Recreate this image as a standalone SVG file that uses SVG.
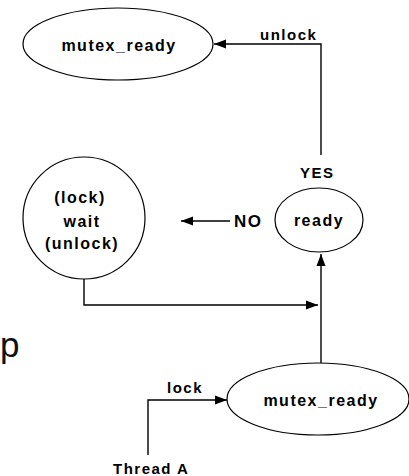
<svg xmlns="http://www.w3.org/2000/svg" width="409" height="476" viewBox="0 0 409 476">
<style>
.node{fill:#fff;stroke:#000;stroke-width:1.2}
.t{font-family:"Liberation Sans",Arial,sans-serif;font-weight:bold;font-size:16px;letter-spacing:1.5px;fill:#000}
.lbl{font-family:"Liberation Sans",Arial,sans-serif;font-weight:bold;font-size:15px;letter-spacing:1.5px;fill:#000}
.c{fill:none;stroke:#000;stroke-width:1.4}
</style>
<defs>
<marker id="ah" markerUnits="userSpaceOnUse" markerWidth="12" markerHeight="10" refX="12" refY="5" orient="auto">
<path d="M0,0.5 L12,5 L0,9.5 Z" fill="#000"/>
</marker>
</defs>
<rect width="409" height="476" fill="#fff"/>
<text x="0" y="357" font-family="'Liberation Sans',Arial,sans-serif" font-size="35" fill="#111">p</text>
<g id="connectors">
<path class="c" d="M321,155 V44 H214" marker-end="url(#ah)"/>
<path class="c" d="M230,221 H181" marker-end="url(#ah)"/>
<path class="c" d="M84,279 V305 H318" marker-end="url(#ah)"/>
<path class="c" d="M321,363 V254" marker-end="url(#ah)"/>
<path class="c" d="M148,455 V400 H227" marker-end="url(#ah)"/>
<text class="lbl" x="260" y="40">unlock</text>
<text class="lbl" x="300" y="178" font-size="16">YES</text>
<text class="lbl" x="234" y="227" style="font-size:17px">NO</text>
<text class="lbl" x="167" y="393">lock</text>
<text class="lbl" x="113" y="474">Thread A</text>
</g>
<g id="mutex_ready_top">
<ellipse class="node" cx="118" cy="44" rx="95" ry="36"/>
<text class="t" x="119" y="51" text-anchor="middle">mutex_ready</text>
</g>
<g id="wait">
<circle class="node" cx="84" cy="218" r="61"/>
<text class="t" x="80" y="203" text-anchor="middle">(lock)</text>
<text class="t" x="82" y="227" text-anchor="middle">wait</text>
<text class="t" x="82" y="249" text-anchor="middle">(unlock)</text>
</g>
<g id="ready">
<ellipse class="node" cx="319" cy="220" rx="44" ry="32"/>
<text class="t" x="319" y="226" text-anchor="middle">ready</text>
</g>
<g id="mutex_ready_bottom">
<ellipse class="node" cx="318" cy="399" rx="91" ry="36"/>
<text class="t" x="321" y="406" text-anchor="middle">mutex_ready</text>
</g>
</svg>
